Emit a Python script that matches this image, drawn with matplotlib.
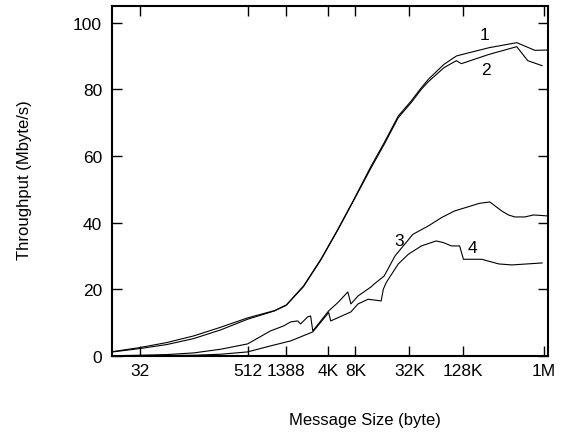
import matplotlib
matplotlib.use("Agg")
import matplotlib.pyplot as plt

plt.rcParams['font.family'] = ['Liberation Sans', 'DejaVu Sans']

# message size (bytes) / throughput (Mbyte/s)
x1 = [16, 32, 64, 128, 256, 512, 1024, 1388, 2160, 3370, 5220, 7900,
      12300, 17200, 24700, 34400, 44700, 53500, 80000, 110000, 125000,
      256000, 520000, 830000, 1160000]
y1 = [1.3, 2.5, 4.0, 6.0, 8.6, 11.4, 13.6, 15.3, 21, 29, 38, 47,
      57, 64, 72, 76.5, 80.5, 83, 87.5, 90, 90.4,
      92.5, 94, 91.7, 91.8]

x2 = [16, 32, 64, 128, 256, 512, 1024, 1388, 2160, 3370, 5220, 7900,
      12300, 17200, 24700, 34400, 44700, 53500, 80000, 110000, 125000,
      256000, 520000, 690000, 1000000]
y2 = [1.2, 2.2, 3.4, 5.2, 7.8, 11.0, 13.5, 15.2, 20.8, 28.8, 37.8, 46.8,
      56.5, 63.5, 71.5, 76, 80, 82.3, 86.5, 88.6, 87.7,
      90.5, 92.8, 88.6, 87.1]

x3 = [16, 32, 64, 128, 256, 512, 923, 1293, 1550, 1860, 2000, 2400, 2590,
      2740, 4120, 5220, 6750, 7300, 8780, 12260, 13200, 17200, 22700,
      36000, 53500, 75000, 105000, 160000, 200000, 260000, 353000, 420000,
      495000, 640000, 800000, 1160000]
y3 = [0.05, 0.2, 0.4, 0.9, 2.0, 3.6, 7.5, 9.0, 10.2, 10.5, 9.6, 11.7, 12.0,
      7.5, 13.5, 16.0, 19.2, 15.6, 18.0, 20.7, 21.5, 24.0, 30.0,
      36.5, 39.0, 41.5, 43.5, 45.0, 45.8, 46.2, 43.5, 42.3,
      41.7, 41.7, 42.3, 42.0]

x4 = [16, 128, 256, 512, 923, 1550, 2740, 4120, 4350, 7300, 8780, 11350,
      15900, 16800, 18100, 24700, 32000, 44700, 65500, 78800, 97000, 119700,
      132000, 211000, 328000, 459000, 1000000]
y4 = [0.0, 0.2, 0.5, 1.2, 3.0, 4.5, 7.2, 13.0, 10.5, 13.2, 15.6, 17.0,
      16.5, 20.0, 22.0, 27.6, 30.5, 33.0, 34.5, 34.0, 33.0, 33.0,
      29.0, 29.0, 27.6, 27.3, 27.9]

tick_pos = [32, 512, 1388, 4096, 8192, 32768, 131072, 1048576]
tick_lab = ["32", "512", "1388", "4K", "8K", "32K", "128K", "1M"]

fig = plt.figure(figsize=(5.62, 4.39), dpi=100)
ax = fig.add_axes([0.199, 0.187, 0.776, 0.797])

for xs, ys in [(x1, y1), (x2, y2), (x3, y3), (x4, y4)]:
    ax.plot(xs, ys, color="black", lw=0.8)

ax.set_xscale("log", base=2)
ax.set_xlim(15.6, 1.16e6)
ax.set_ylim(0, 105)
ax.set_xticks(tick_pos)
ax.set_xticklabels(tick_lab)
ax.minorticks_off()
ax.set_yticks([0, 20, 40, 60, 80, 100])

ax.tick_params(direction="in", length=7.5, width=1, top=True, right=True,
               labelsize=12.5)
ax.tick_params(axis="x", pad=5)
ax.tick_params(axis="y", pad=7)
for s in ax.spines.values():
    s.set_linewidth(1.5)

ax.text(228000, 96.5, "1", fontsize=12.5, ha="center", va="center")
ax.text(235000, 86, "2", fontsize=12.5, ha="center", va="center")
ax.text(25000, 34.5, "3", fontsize=12.5, ha="center", va="center")
ax.text(165000, 32.5, "4", fontsize=12.5, ha="center", va="center")

ax.set_xlabel("Message Size (byte)", fontsize=12)
ax.xaxis.set_label_coords(0.58, -0.16)
ax.set_ylabel("Throughput (Mbyte/s)", fontsize=12)
ax.yaxis.set_label_coords(-0.183, 0.506)

fig.savefig("out.png", dpi=100)
